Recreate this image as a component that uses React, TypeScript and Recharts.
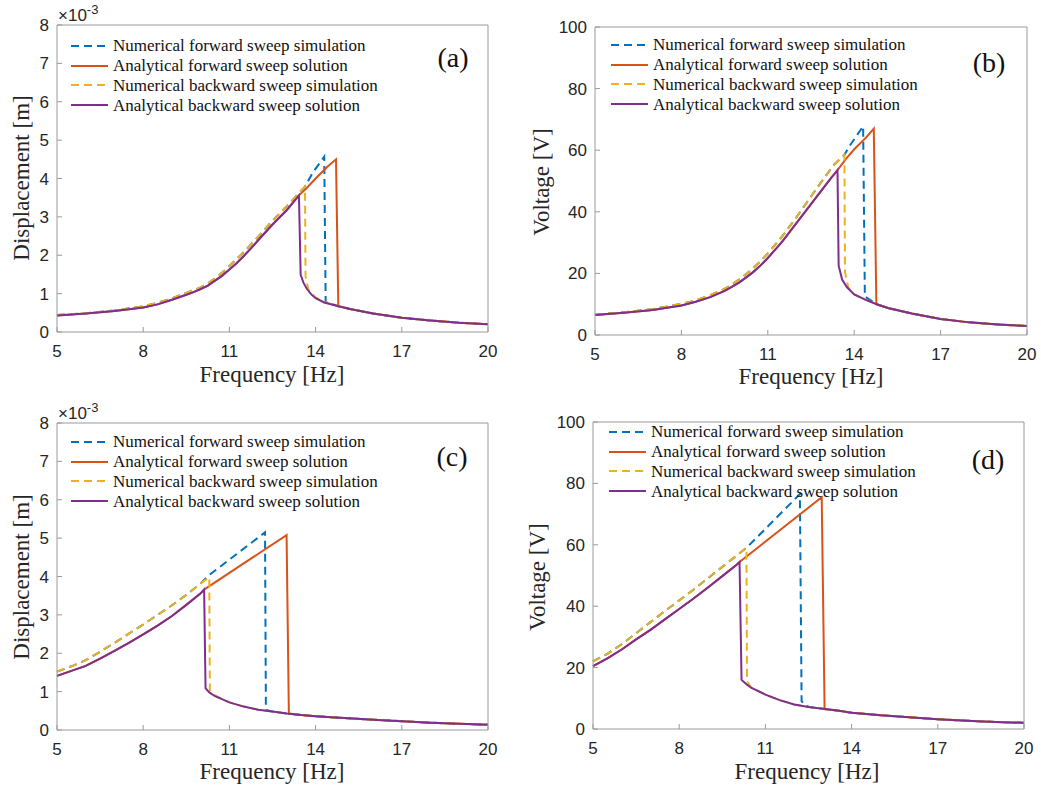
import React from 'react';
import { LineChart, Line, XAxis, YAxis, Legend } from 'recharts';

type Pt = [number, number];

const freqTicks = [5, 8, 11, 14, 17, 20];
const dispTicks = [0, 1, 2, 3, 4, 5, 6, 7, 8];
const voltTicks = [0, 20, 40, 60, 80, 100];

const seriesNames = [
  'Numerical forward sweep simulation',
  'Analytical forward sweep solution',
  'Numerical backward sweep simulation',
  'Analytical backward sweep solution',
];
const seriesColors = ['#0072BD', '#D95319', '#EDB120', '#7E2F8E'];
const seriesDash = ['8 5', undefined, '8 5', undefined];

// (a) displacement [x1e-3 m]
const aNumFwd: Pt[] = [[5, 0.44], [6, 0.49], [7, 0.56], [8, 0.67], [8.5, 0.76], [9, 0.88], [9.5, 1.02], [9.75, 1.09], [10, 1.16], [10.25, 1.27], [10.5, 1.4], [10.75, 1.55], [11, 1.72], [11.25, 1.9], [11.5, 2.08], [11.75, 2.28], [12, 2.48], [12.5, 2.9], [13, 3.28], [13.3, 3.52], [13.63, 3.79], [13.9, 4.15], [14.3, 4.57], [14.35, 0.78], [14.8, 0.67], [15.2, 0.6], [16, 0.48], [17, 0.37], [18, 0.3], [19, 0.24], [20, 0.2]];
const aAnaFwd: Pt[] = [[5, 0.43], [6, 0.48], [7, 0.55], [8, 0.64], [8.5, 0.72], [9, 0.84], [9.5, 0.97], [9.75, 1.04], [10, 1.12], [10.25, 1.21], [10.5, 1.34], [10.75, 1.47], [11, 1.63], [11.25, 1.79], [11.5, 1.98], [11.75, 2.18], [12, 2.39], [12.5, 2.8], [13, 3.18], [13.42, 3.56], [13.7, 3.76], [14, 4.0], [14.4, 4.3], [14.71, 4.5], [14.79, 0.67], [15.2, 0.6], [16, 0.48], [17, 0.37], [18, 0.3], [19, 0.24], [20, 0.2]];
const aNumBwd: Pt[] = [[5, 0.44], [6, 0.49], [7, 0.56], [8, 0.67], [8.5, 0.76], [9, 0.88], [9.5, 1.02], [9.75, 1.09], [10, 1.16], [10.25, 1.27], [10.5, 1.4], [10.75, 1.55], [11, 1.72], [11.25, 1.9], [11.5, 2.08], [11.75, 2.28], [12, 2.48], [12.5, 2.9], [13, 3.28], [13.3, 3.52], [13.63, 3.79], [13.65, 1.45], [13.75, 1.1], [14, 0.9], [14.3, 0.78], [14.8, 0.67], [15.2, 0.6], [16, 0.48], [17, 0.37], [18, 0.3], [19, 0.24], [20, 0.2]];
const aAnaBwd: Pt[] = [[5, 0.43], [6, 0.48], [7, 0.55], [8, 0.64], [8.5, 0.72], [9, 0.84], [9.5, 0.97], [9.75, 1.04], [10, 1.12], [10.25, 1.21], [10.5, 1.34], [10.75, 1.47], [11, 1.63], [11.25, 1.79], [11.5, 1.98], [11.75, 2.18], [12, 2.39], [12.5, 2.8], [13, 3.18], [13.42, 3.56], [13.48, 1.49], [13.58, 1.28], [13.7, 1.12], [13.85, 0.98], [14, 0.88], [14.3, 0.77], [14.8, 0.67], [15.2, 0.6], [16, 0.48], [17, 0.37], [18, 0.3], [19, 0.24], [20, 0.2]];

// (b) voltage [V]
const bNumFwd: Pt[] = [[5, 6.6], [6, 7.4], [7, 8.4], [8, 10.1], [8.5, 11.2], [9, 12.9], [9.5, 15], [9.75, 16.4], [10, 18], [10.25, 19.8], [10.5, 21.8], [10.75, 24], [11, 26.5], [11.5, 32], [12, 38.3], [12.5, 45], [13, 51.5], [13.3, 55.3], [13.66, 58.5], [13.85, 61.5], [14.31, 67.8], [14.37, 12.5], [14.78, 10], [15.2, 8.7], [16, 7], [17, 5.2], [18, 4.1], [19, 3.4], [20, 2.9]];
const bAnaFwd: Pt[] = [[5, 6.5], [6, 7.2], [7, 8.1], [8, 9.6], [8.5, 10.8], [9, 12.3], [9.5, 14.3], [9.75, 15.6], [10, 17], [10.25, 18.7], [10.5, 20.5], [10.75, 22.6], [11, 25], [11.5, 30.3], [12, 36.4], [12.5, 42.5], [13, 48.6], [13.2, 51], [13.42, 53.5], [13.7, 57], [14, 60.3], [14.4, 64], [14.68, 67], [14.77, 10], [15.2, 8.7], [16, 7], [17, 5.2], [18, 4.1], [19, 3.4], [20, 2.9]];
const bNumBwd: Pt[] = [[5, 6.6], [6, 7.4], [7, 8.4], [8, 10.1], [8.5, 11.2], [9, 12.9], [9.5, 15], [9.75, 16.4], [10, 18], [10.25, 19.8], [10.5, 21.8], [10.75, 24], [11, 26.5], [11.5, 32], [12, 38.3], [12.5, 45], [13, 51.5], [13.3, 55.3], [13.66, 58.5], [13.68, 20.5], [13.8, 15.3], [14, 13.2], [14.4, 11.4], [14.78, 10], [15.2, 8.7], [16, 7], [17, 5.2], [18, 4.1], [19, 3.4], [20, 2.9]];
const bAnaBwd: Pt[] = [[5, 6.5], [6, 7.2], [7, 8.1], [8, 9.6], [8.5, 10.8], [9, 12.3], [9.5, 14.3], [9.75, 15.6], [10, 17], [10.25, 18.7], [10.5, 20.5], [10.75, 22.6], [11, 25], [11.5, 30.3], [12, 36.4], [12.5, 42.5], [13, 48.6], [13.2, 51], [13.42, 53.5], [13.46, 22.5], [13.58, 18], [13.75, 15.5], [14, 13.2], [14.4, 11.4], [14.78, 10], [15.2, 8.7], [16, 7], [17, 5.2], [18, 4.1], [19, 3.4], [20, 2.9]];

// (c) displacement [x1e-3 m]
const cNumFwd: Pt[] = [[5, 1.52], [5.5, 1.66], [6, 1.82], [6.5, 2.04], [7, 2.27], [7.5, 2.51], [8, 2.75], [8.5, 3.0], [9, 3.25], [9.5, 3.52], [10, 3.82], [10.3, 4.04], [12.24, 5.15], [12.27, 0.52], [12.5, 0.48], [13, 0.43], [13.5, 0.39], [14, 0.36], [15, 0.31], [16, 0.27], [17, 0.23], [18, 0.19], [19, 0.16], [20, 0.14]];
const cAnaFwd: Pt[] = [[5, 1.41], [5.5, 1.54], [6, 1.67], [6.5, 1.86], [7, 2.06], [7.5, 2.27], [8, 2.49], [8.5, 2.72], [9, 2.97], [9.5, 3.26], [10, 3.56], [10.12, 3.66], [12.99, 5.08], [13.07, 0.43], [13.5, 0.39], [14, 0.36], [15, 0.31], [16, 0.27], [17, 0.23], [18, 0.19], [19, 0.16], [20, 0.14]];
const cNumBwd: Pt[] = [[5, 1.52], [5.5, 1.66], [6, 1.82], [6.5, 2.04], [7, 2.27], [7.5, 2.51], [8, 2.75], [8.5, 3.0], [9, 3.25], [9.5, 3.52], [10, 3.82], [10.3, 3.98], [10.32, 1.04], [10.5, 0.9], [11, 0.72], [11.5, 0.61], [12, 0.53], [12.5, 0.48], [13, 0.43], [13.5, 0.39], [14, 0.36], [15, 0.31], [16, 0.27], [17, 0.23], [18, 0.19], [19, 0.16], [20, 0.14]];
const cAnaBwd: Pt[] = [[5, 1.41], [5.5, 1.54], [6, 1.67], [6.5, 1.86], [7, 2.06], [7.5, 2.27], [8, 2.49], [8.5, 2.72], [9, 2.97], [9.5, 3.26], [10, 3.56], [10.12, 3.66], [10.17, 1.09], [10.3, 0.98], [10.5, 0.88], [11, 0.72], [11.5, 0.61], [12, 0.53], [12.5, 0.48], [13, 0.43], [13.5, 0.39], [14, 0.36], [15, 0.31], [16, 0.27], [17, 0.23], [18, 0.19], [19, 0.16], [20, 0.14]];

// (d) voltage [V]
const dNumFwd: Pt[] = [[5, 22], [5.5, 24.5], [6, 27.6], [6.5, 31.2], [7, 34.8], [7.5, 38.4], [8, 41.9], [8.5, 45.4], [9, 49.1], [9.5, 52.8], [10, 56.5], [10.34, 59], [12.2, 76.5], [12.26, 9], [12.5, 7.2], [13, 6.6], [13.5, 6], [14, 5.3], [15, 4.5], [16, 3.8], [17, 3.2], [18, 2.7], [19, 2.3], [20, 2.0]];
const dAnaFwd: Pt[] = [[5, 20.5], [5.5, 23], [6, 25.9], [6.5, 29.2], [7, 32.3], [7.5, 35.7], [8, 39.1], [8.5, 42.5], [9, 46.1], [9.5, 49.8], [10, 53.5], [10.1, 54.4], [12.96, 75.5], [13.06, 6.5], [13.5, 6], [14, 5.3], [15, 4.5], [16, 3.8], [17, 3.2], [18, 2.7], [19, 2.3], [20, 2.0]];
const dNumBwd: Pt[] = [[5, 22], [5.5, 24.5], [6, 27.6], [6.5, 31.2], [7, 34.8], [7.5, 38.4], [8, 41.9], [8.5, 45.4], [9, 49.1], [9.5, 52.8], [10, 56.5], [10.34, 59], [10.36, 15.5], [10.5, 13.6], [11, 11.2], [11.5, 9.4], [12, 8], [12.5, 7.2], [13, 6.6], [13.5, 6], [14, 5.3], [15, 4.5], [16, 3.8], [17, 3.2], [18, 2.7], [19, 2.3], [20, 2.0]];
const dAnaBwd: Pt[] = [[5, 20.5], [5.5, 23], [6, 25.9], [6.5, 29.2], [7, 32.3], [7.5, 35.7], [8, 39.1], [8.5, 42.5], [9, 46.1], [9.5, 49.8], [10, 53.5], [10.1, 54.4], [10.17, 16], [10.35, 14.5], [10.5, 13.5], [11, 11.2], [11.5, 9.4], [12, 8], [12.5, 7.2], [13, 6.6], [13.5, 6], [14, 5.3], [15, 4.5], [16, 3.8], [17, 3.2], [18, 2.7], [19, 2.3], [20, 2.0]];

const SANS = '"Liberation Sans", Arial, Helvetica, sans-serif';
const SERIF = '"Liberation Serif", "Times New Roman", Times, serif';
const AXIS = '#9a9a9a';
const TEXT = '#262626';

const toRows = (pts: Pt[]) => pts.map(([f, v]) => ({ f, v }));

const BottomTick = (p: any) => (
  <g>
    <line x1={p.x} x2={p.x} y1={p.y} y2={p.y - 5} stroke={AXIS} />
    <text x={p.x} y={p.y + 25} textAnchor="middle" fontSize={17} fontFamily={SANS} fill={TEXT}>
      {p.payload.value}
    </text>
  </g>
);
const TopTick = (p: any) => <line x1={p.x} x2={p.x} y1={p.y} y2={p.y + 5} stroke={AXIS} />;
const LeftTick = (p: any) => (
  <g>
    <line x1={p.x} x2={p.x + 5} y1={p.y} y2={p.y} stroke={AXIS} />
    <text x={p.x - 8} y={p.y + 6} textAnchor="end" fontSize={17} fontFamily={SANS} fill={TEXT}>
      {p.payload.value}
    </text>
  </g>
);
const RightTick = (p: any) => <line x1={p.x} x2={p.x - 5} y1={p.y} y2={p.y} stroke={AXIS} />;

// legend rows in plotting order (payload order is not guaranteed)
const LegendBox = () => (
  <div style={{ fontFamily: SERIF, fontSize: 17, color: '#111', lineHeight: 1 }}>
    {seriesNames.map((name, i) => (
      <div key={name} style={{ display: 'flex', alignItems: 'center', height: 19.8, whiteSpace: 'nowrap' }}>
        <svg width={42} height={6} style={{ flex: 'none' }}>
          <line x1={0} x2={37} y1={3} y2={3} stroke={seriesColors[i]} strokeWidth={2.2} strokeDasharray={seriesDash[i]} />
        </svg>
        <span>{name}</span>
      </div>
    ))}
  </div>
);

type PanelProps = {
  x: number;
  y: number;
  w: number;
  h: number;
  plot: { top: number; right: number; bottom: number; left: number };
  series: Pt[][];
  yTicks: number[];
  yLabel: string;
  tag: string;
  exponent?: boolean;
  legendPos: [number, number];
  yLabelPos: [number, number];
  xLabelPos: [number, number];
  tagPos: [number, number];
};

const Panel = (p: PanelProps) => {
  const yMax = p.yTicks[p.yTicks.length - 1];
  // every axis takes 1px, so margins are one less than the plot offsets
  const margin = { top: p.plot.top - 1, right: p.plot.right - 1, bottom: p.plot.bottom - 1, left: p.plot.left - 1 };
  return (
    <div style={{ position: 'absolute', left: p.x, top: p.y, width: p.w, height: p.h }}>
      <LineChart width={p.w} height={p.h} margin={margin}>
        <XAxis xAxisId="b" type="number" dataKey="f" domain={[5, 20]} ticks={freqTicks} interval={0}
          height={1} tickSize={0} tickMargin={0} axisLine={{ stroke: AXIS }} tickLine={false} tick={BottomTick} />
        <XAxis xAxisId="t" orientation="top" type="number" dataKey="f" domain={[5, 20]} ticks={freqTicks} interval={0}
          height={1} tickSize={0} tickMargin={0} axisLine={{ stroke: AXIS }} tickLine={false} tick={TopTick} />
        <YAxis yAxisId="l" type="number" domain={[0, yMax]} ticks={p.yTicks} interval={0}
          width={1} tickSize={0} tickMargin={0} axisLine={{ stroke: AXIS }} tickLine={false} tick={LeftTick} />
        <YAxis yAxisId="r" orientation="right" type="number" domain={[0, yMax]} ticks={p.yTicks} interval={0}
          width={1} tickSize={0} tickMargin={0} axisLine={{ stroke: AXIS }} tickLine={false} tick={RightTick} />
        <Legend content={LegendBox} layout="horizontal" verticalAlign="middle" align="center"
          wrapperStyle={{ left: p.legendPos[0], top: p.legendPos[1], width: 'auto', height: 'auto' }} />
        {p.series.map((s, i) => (
          <Line key={seriesNames[i]} name={seriesNames[i]} data={toRows(s)} dataKey="v" xAxisId="b" yAxisId="l"
            type="linear" stroke={seriesColors[i]} strokeWidth={2} strokeDasharray={seriesDash[i]}
            dot={false} activeDot={false} isAnimationActive={false} />
        ))}
      </LineChart>
      {p.exponent && (
        <div style={{ position: 'absolute', left: p.plot.left + 1, top: p.plot.top - 18, fontFamily: SANS, fontSize: 17, lineHeight: 1, color: TEXT, whiteSpace: 'nowrap' }}>
          ×10<span style={{ fontSize: 13, position: 'relative', top: -7 }}>-3</span>
        </div>
      )}
      <div style={{ position: 'absolute', left: p.yLabelPos[0], top: p.yLabelPos[1], transform: 'translate(-50%, -50%) rotate(-90deg)', fontFamily: SERIF, fontSize: 23, color: TEXT, whiteSpace: 'nowrap' }}>
        {p.yLabel}
      </div>
      <div style={{ position: 'absolute', left: p.xLabelPos[0], top: p.xLabelPos[1], transform: 'translate(-50%, -50%)', fontFamily: SERIF, fontSize: 23, color: TEXT, whiteSpace: 'nowrap' }}>
        Frequency [Hz]
      </div>
      <div style={{ position: 'absolute', left: p.tagPos[0], top: p.tagPos[1], transform: 'translate(-50%, -50%)', fontFamily: SERIF, fontSize: 28, color: '#111', whiteSpace: 'nowrap' }}>
        {p.tag}
      </div>
    </div>
  );
};

export default function App() {
  return (
    <div style={{ position: 'absolute', left: 0, top: 0, width: 1041, height: 792, background: '#fff' }}>
      <Panel x={0} y={0} w={520} h={395} plot={{ top: 25, right: 32, bottom: 63, left: 57 }}
        series={[aNumFwd, aAnaFwd, aNumBwd, aAnaBwd]} yTicks={dispTicks} yLabel="Displacement [m]" tag="(a)" exponent
        legendPos={[71, 36]} yLabelPos={[22, 178]} xLabelPos={[272, 375]} tagPos={[453, 58]} />
      <Panel x={520} y={0} w={521} h={395} plot={{ top: 27, right: 14, bottom: 60, left: 75 }}
        series={[bNumFwd, bAnaFwd, bNumBwd, bAnaBwd]} yTicks={voltTicks} yLabel="Voltage [V]" tag="(b)"
        legendPos={[91, 35]} yLabelPos={[22, 182]} xLabelPos={[291, 377]} tagPos={[469, 63]} />
      <Panel x={0} y={395} w={520} h={397} plot={{ top: 28, right: 32, bottom: 62, left: 57 }}
        series={[cNumFwd, cAnaFwd, cNumBwd, cAnaBwd]} yTicks={dispTicks} yLabel="Displacement [m]" tag="(c)" exponent
        legendPos={[71, 37]} yLabelPos={[22, 182]} xLabelPos={[272, 377]} tagPos={[452, 62]} />
      <Panel x={520} y={395} w={521} h={397} plot={{ top: 27, right: 17, bottom: 63, left: 73 }}
        series={[dNumFwd, dAnaFwd, dNumBwd, dAnaBwd]} yTicks={voltTicks} yLabel="Voltage [V]" tag="(d)"
        legendPos={[89, 27]} yLabelPos={[18, 182]} xLabelPos={[287, 377]} tagPos={[468, 65]} />
    </div>
  );
}
